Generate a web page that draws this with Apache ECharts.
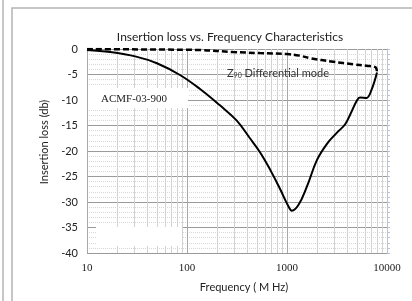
<!DOCTYPE html>
<html>
<head>
<meta charset="utf-8">
<script src="https://cdn.jsdelivr.net/npm/echarts@6/dist/echarts.min.js"></script>
<style>
  html, body { margin: 0; padding: 0; background: #fff; }
  #il { width: 412px; height: 301px; }
</style>
</head>
<body>
<div id="il"></div>
<script>
// 频率 (MHz) 与插入损耗 (dB)
var solidFreq = [10, 17, 31, 50, 85, 134, 212, 313, 426, 535, 680, 850, 1030, 1120, 1300, 1580, 1990, 2510, 3160, 3800, 4300, 4970, 5370, 6230, 7000, 7940];
var solidLoss = [-0.2, -0.6, -1.5, -2.8, -5.1, -7.8, -11.0, -14.0, -17.5, -20.2, -23.7, -27.4, -30.8, -31.7, -30.6, -27.0, -21.8, -18.6, -16.4, -14.8, -12.8, -10.2, -9.5, -9.6, -8.0, -4.6];
var dashFreq = [10, 42, 134, 290, 535, 1000, 1340, 1700, 2900, 4600, 6230, 7700, 7940];
var dashLoss = [0, -0.1, -0.2, -0.6, -0.8, -1.0, -1.3, -1.8, -2.5, -3.0, -3.3, -3.6, -4.6];
var decades = [10, 100, 1000];
var minorSteps = [2, 3, 4, 5, 6, 7, 8, 9];

function pairs(xs, ys) {
    return xs.map(function (x, i) { return [x, ys[i]]; });
}
var minorLines = [];
decades.forEach(function (d) {
    minorSteps.forEach(function (m) { minorLines.push({ xAxis: d * m }); });
});

var il = echarts.init(document.getElementById('il'));
var ilOption = {
    animation: false,
    backgroundColor: '#fff',
    title: {
        text: 'Insertion loss vs. Frequency Characteristics',
        left: 225,
        top: 26,
        textAlign: 'center',
        textStyle: { fontFamily: 'Lato', fontSize: 12, fontWeight: 'normal', color: '#222' }
    },
    grid: { left: 87, top: 49, width: 300, height: 204, containLabel: false },
    xAxis: {
        type: 'log',
        logBase: 10,
        min: 10,
        max: 10000,
        name: 'Frequency ( M Hz)',
        nameLocation: 'middle',
        nameGap: 29,
        nameTextStyle: { fontFamily: 'Lato', fontSize: 11, color: '#222', padding: [0, 0, 0, 14] },
        axisLine: { show: false },
        axisTick: { show: false },
        axisLabel: {
            fontFamily: 'Liberation Serif', fontSize: 11, color: '#222', margin: 10,
            formatter: function (v) { return String(v); }
        },
        splitLine: { show: true, lineStyle: { color: '#a8a8a8', width: 1 } }
    },
    yAxis: [{
        type: 'value',
        min: -40,
        max: 0,
        interval: 5,
        name: 'Insertion loss (db)',
        nameLocation: 'middle',
        nameGap: 30,
        nameRotate: 90,
        nameTextStyle: { fontFamily: 'Lato', fontSize: 11, color: '#222', padding: [0, 0, 0, 18] },
        axisLine: { show: false },
        axisTick: { show: false },
        axisLabel: { fontFamily: 'Lato', fontSize: 11, color: '#222', margin: 9 },
        splitLine: { show: true, lineStyle: { color: '#9a9a9a', width: 1 } },
        minorTick: { show: false, splitNumber: 5 },
        minorSplitLine: { show: true, lineStyle: { color: '#d8d8d8', type: 'dotted', width: 1 } }
    }, {
        type: 'value',
        position: 'right',
        min: -40,
        max: 0,
        interval: 1,
        axisLine: { show: true, lineStyle: { color: '#a9c8e8', width: 1 } },
        axisTick: { show: true, length: 3, lineStyle: { color: '#a9c8e8' } },
        axisLabel: { show: false },
        splitLine: { show: false }
    }],
    graphic: [
        { type: 'line', shape: { x1: 3, y1: 0, x2: 3, y2: 301 }, style: { stroke: '#b4b4b4', lineWidth: 1.5 }, z: 10 },
        { type: 'polyline', shape: { points: [[12, 301], [12, 8], [412, 8]] }, style: { stroke: '#b4b4b4', lineWidth: 1.5, fill: null }, z: 10 },
        { type: 'rect', shape: { x: 88, y: 88, width: 100, height: 20 }, style: { fill: '#fff' }, z: 2 },
        { type: 'rect', shape: { x: 96, y: 227, width: 86, height: 19 }, style: { fill: '#fff' }, z: 2 },
        { type: 'text', x: 101, y: 99, style: { text: 'ACMF-03-900', font: '11px "Liberation Serif"', fill: '#222', verticalAlign: 'middle' }, z: 3 },
        {
            type: 'text', x: 227, y: 73, z: 3,
            style: {
                text: '{z|Z}{s|90}{d| Differential mode}',
                verticalAlign: 'middle',
                rich: {
                    z: { fontFamily: 'Lato', fontSize: 11, fill: '#333' },
                    s: { fontFamily: 'Lato', fontSize: 7, fill: '#333', padding: [6, 0, 0, 0] },
                    d: { fontFamily: 'Lato', fontSize: 11, fill: '#333' }
                }
            }
        }
    ],
    series: [
        {
            name: 'ACMF-03-900',
            type: 'line',
            z: 4,
            data: pairs(solidFreq, solidLoss),
            smooth: 0.4,
            showSymbol: false,
            lineStyle: { color: '#000', width: 2 },
            markLine: {
                silent: true,
                z: 1,
                symbol: 'none',
                label: { show: false },
                lineStyle: { color: '#d2d2d2', type: 'solid', width: 1 },
                data: minorLines
            }
        },
        {
            name: 'Differential mode',
            type: 'line',
            z: 4,
            data: pairs(dashFreq, dashLoss),
            smooth: 0.4,
            showSymbol: false,
            lineStyle: { color: '#000', width: 2.5, type: [6, 3] }
        }
    ]
};
il.setOption(ilOption);
window.addEventListener('resize', function () {
    il.resize();
});
</script>
</body>
</html>
